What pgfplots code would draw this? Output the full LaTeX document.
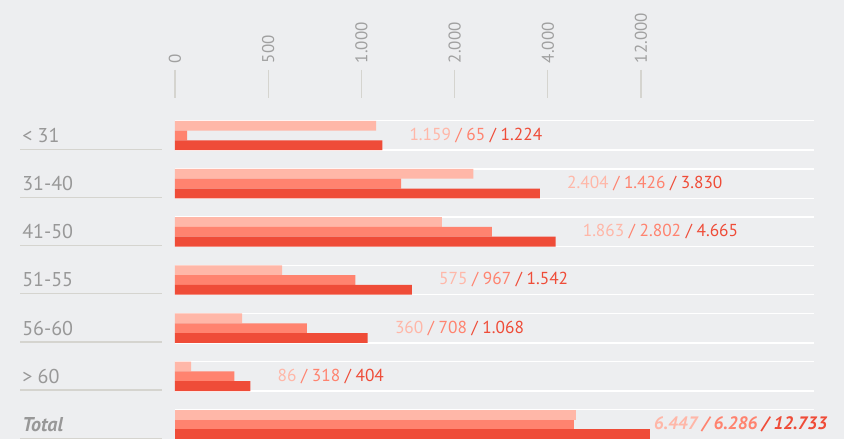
\documentclass[border=0pt]{standalone}
\usepackage{pgfplots}
\pgfplotsset{compat=1.18}
\usepackage{pgfplotstable}
\usepackage{fontspec}
\setmainfont{PT Sans}
\definecolor{bg}{RGB}{237,238,240}
\definecolor{cA}{RGB}{255,183,168}
\definecolor{cB}{RGB}{255,131,111}
\definecolor{cC}{RGB}{239,76,56}
\definecolor{labgray}{RGB}{152,152,152}
\definecolor{tickgray}{RGB}{160,160,160}
\definecolor{linecol}{RGB}{213,212,207}
% piecewise-linear axis of the chart: 0,500,1000,2000,4000,12000 -> 0..5
\newcommand\vmap[1]{ifthenelse(#1<500,#1/500,ifthenelse(#1<1000,1+(#1-500)/500,ifthenelse(#1<2000,2+(#1-1000)/1000,ifthenelse(#1<4000,3+(#1-2000)/2000,4+(#1-4000)/8000))))}
\newcommand\lblsep{\nobreakspace/\nobreakspace}
% y: row position (6 = top), a/b/c: the three values
\pgfplotstableread{
y a b c
6 1159 65 1224
5 2404 1426 3830
4 1863 2802 4665
3 575 967 1542
2 360 708 1068
1 86 318 404
}\agedata
\pgfplotstableread{
y a b c
0 6447 6286 12733
}\totdata
\begin{document}
\begin{tikzpicture}
\path[use as bounding box, fill=bg] (0,0) rectangle (633pt,-329.25pt);
\begin{axis}[
  at={(131.25pt,-329.25pt)}, anchor=south west,
  scale only axis, width=479.25pt, height=256.05pt,
  xbar, bar width=7.35pt,
  xmin=0, xmax=6.856, ymin=-0.301, ymax=6.786,
  clip=false,
  axis line style={draw=none},
  /pgf/number format/assume math mode=true,
  /pgf/number format/1000 sep={.},
  xtick pos=upper, tick align=outside, major tick length=20.7pt,
  xtick={0,1,2,3,4,5},
  xticklabels={0,500,1.000,2.000,4.000,12.000},
  xticklabel shift=5pt,
  xticklabel style={rotate=90, anchor=west, inner sep=0pt, font=\fontsize{12.75}{14}\selectfont, text=tickgray},
  xtick style={draw=linecol, line width=1pt},
  ytick=\empty,
  extra y ticks={-0.305,0.305,0.695,1.305,1.695,2.305,2.695,3.305,3.695,4.305,4.695,5.305,5.695,6.305},
  extra y tick labels={},
  extra y tick style={grid=major, major grid style={white, line width=1pt}, tick style={draw=none}},
]
\addplot[draw=none, fill=cA, bar shift=7.35pt] table[x expr={\vmap{\thisrow{a}}}, y=y] {\agedata};
\addplot[draw=none, fill=cB, bar shift=0pt] table[x expr={\vmap{\thisrow{b}}}, y=y] {\agedata};
\addplot[draw=none, fill=cC, bar shift=-7.35pt,
  visualization depends on={\thisrow{a}\as\va},
  visualization depends on={\thisrow{b}\as\vb},
  visualization depends on={\thisrow{c}\as\vc},
  nodes near coords={\textcolor{cA}{\pgfmathprintnumber[fixed,precision=0]{\va}}\textcolor{cB}{\lblsep\pgfmathprintnumber[fixed,precision=0]{\vb}}\textcolor{cC}{\lblsep\pgfmathprintnumber[fixed,precision=0]{\vc}}},
  every node near coord/.append style={anchor=west, inner sep=0pt, xshift=20.25pt, yshift=7.35pt, font=\fontsize{13}{15}\selectfont},
] table[x expr={\vmap{\thisrow{c}}}, y=y] {\agedata};
\addplot[draw=none, fill=cA, bar shift=7.35pt, forget plot] table[x expr={\vmap{\thisrow{a}}}, y=y] {\totdata};
\addplot[draw=none, fill=cB, bar shift=0pt, forget plot] table[x expr={\vmap{\thisrow{b}}}, y=y] {\totdata};
\addplot[draw=none, fill=cC, bar shift=-7.35pt, forget plot,
  visualization depends on={\thisrow{a}\as\va},
  visualization depends on={\thisrow{b}\as\vb},
  visualization depends on={\thisrow{c}\as\vc},
  nodes near coords={\textcolor{cA}{\pgfmathprintnumber[fixed,precision=0]{\va}}\textcolor{cB}{\lblsep\pgfmathprintnumber[fixed,precision=0]{\vb}}\textcolor{cC}{\lblsep\pgfmathprintnumber[fixed,precision=0]{\vc}}},
  every node near coord/.append style={anchor=west, inner sep=0pt, xshift=3pt, yshift=7.35pt, font=\fontsize{13.5}{15}\selectfont\bfseries\itshape},
] table[x expr={\vmap{\thisrow{c}}}, y=y] {\totdata};
\pgfplotsinvokeforeach{0,...,6}{
  \draw[linecol, line width=1pt] (axis cs:-1.663,#1-0.285) -- (axis cs:-0.139,#1-0.285);
}
\begin{scope}[font=\fontsize{15}{18}\selectfont, text=labgray, inner sep=0pt]
\node[anchor=west] at (axis cs:-1.6416,6) {< 31};
\node[anchor=west] at (axis cs:-1.6416,5) {31-40};
\node[anchor=west] at (axis cs:-1.6416,4) {41-50};
\node[anchor=west] at (axis cs:-1.6416,3) {51-55};
\node[anchor=west] at (axis cs:-1.6416,2) {56-60};
\node[anchor=west] at (axis cs:-1.6416,1) {> 60};
\node[anchor=west] at (axis cs:-1.6416,0) {\bfseries\itshape Total};
\end{scope}
\end{axis}
\end{tikzpicture}
\end{document}
